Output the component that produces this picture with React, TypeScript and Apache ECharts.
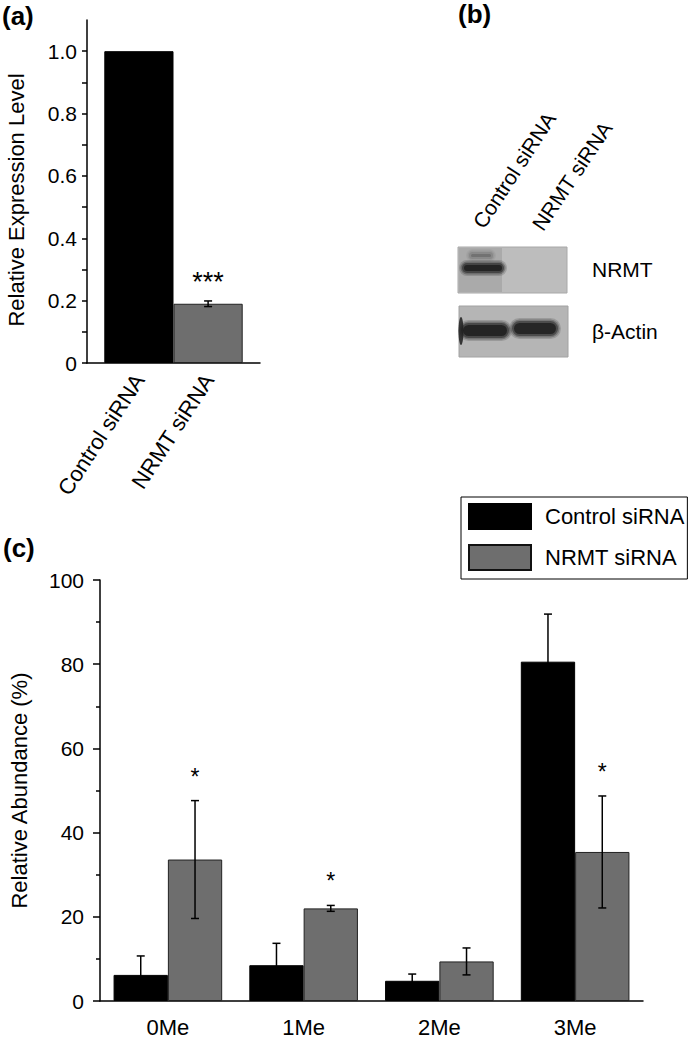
import React, { useEffect, useRef } from "react";
import * as echarts from "echarts";

// ---------- data ----------
// panel (a)
const aCategories = ["Control siRNA", "NRMT siRNA"];
const aValues = [1.0, 0.19];
const aErrors = [0, 0.009];
const aSignif = ["", "***"];
const aTickValues = [0, 0.1, 0.2, 0.3, 0.4, 0.5, 0.6, 0.7, 0.8, 0.9, 1.0];
const aLabelValues = [0, 0.2, 0.4, 0.6, 0.8, 1.0];

// panel (b) western blot relative band intensities (lane order = aCategories)
const blotNRMT = [1, 0];
const blotActin = [1, 0.95];

// panel (c)
const cCategories = ["0Me", "1Me", "2Me", "3Me"];
const controlValues = [6.2, 8.5, 4.8, 80.6];
const controlErrors = [4.5, 5.2, 1.6, 11.3];
const nrmtValues = [33.6, 22.0, 9.4, 35.4];
const nrmtErrors = [14.0, 0.7, 3.2, 13.3];
const controlSignif = ["", "", "", ""];
const nrmtSignif = ["*", "*", "", "*"];

const FONT = '"Liberation Sans", Arial, Helvetica, sans-serif';
const GRAY = "#6e6e6e";

function errorSeries(
  id: string,
  xAxisIndex: number,
  yAxisIndex: number,
  values: number[],
  errors: number[],
  signif: string[],
  side: number,
  starSize: number,
  starGap: number
) {
  const data = values.map((v, i) => [i, v, errors[i]]);
  return {
    id,
    type: "custom",
    xAxisIndex,
    yAxisIndex,
    z: 5,
    encode: { x: 0, y: 1 },
    data,
    renderItem: (params: any, api: any) => {
      const i = api.value(0);
      const v = api.value(1);
      const e = api.value(2);
      const bw = api.size([1, 0])[0];
      const dx = side * bw * 0.2;
      const top = api.coord([i, v + e]);
      const bot = api.coord([i, v - e]);
      const x = top[0] + dx;
      const children: any[] = [];
      const ls = { stroke: "#000", lineWidth: 1.5 };
      if (e > 0) {
        children.push({ type: "line", shape: { x1: x, y1: top[1], x2: x, y2: bot[1] }, style: ls });
        children.push({ type: "line", shape: { x1: x - 4, y1: top[1], x2: x + 4, y2: top[1] }, style: ls });
        children.push({ type: "line", shape: { x1: x - 4, y1: bot[1], x2: x + 4, y2: bot[1] }, style: ls });
      }
      const sig = signif[params.dataIndex];
      if (sig) {
        children.push({
          type: "text",
          x: x,
          y: top[1] - starGap,
          style: {
            text: sig,
            fill: "#000",
            font: `${starSize}px ${FONT}`,
            textAlign: "center",
            textVerticalAlign: "middle",
          },
        });
      }
      return { type: "group", children };
    },
  };
}

// soft (blurred-looking) band made of layered translucent rounded rects
function softBand(x: number, y: number, w: number, h: number, intensity: number) {
  const layers = [
    { g: 4, a: 0.18 },
    { g: 2.5, a: 0.3 },
    { g: 1, a: 0.5 },
    { g: -1, a: 0.85 },
  ];
  return layers.map((l) => ({
    type: "rect",
    shape: { x: x - l.g, y: y - l.g, width: w + 2 * l.g, height: h + 2 * l.g, r: (h + 2 * l.g) / 2 },
    style: { fill: "#1e1e1e", opacity: l.a * intensity },
  }));
}

function blotElements() {
  const els: any[] = [];
  // NRMT blot box
  els.push({ type: "rect", shape: { x: 458, y: 247, width: 109, height: 46 }, style: { fill: "#bdbdbd", stroke: "#a8a8a8", lineWidth: 1 } });
  els.push({ type: "rect", shape: { x: 459, y: 248, width: 43, height: 44 }, style: { fill: "#aaaaaa" } });
  els.push(...softBand(470, 253, 22, 5, 0.25));
  // Actin blot box
  els.push({ type: "rect", shape: { x: 459, y: 306, width: 109, height: 51 }, style: { fill: "#b5b5b5", stroke: "#a2a2a2", lineWidth: 1 } });
  const nrmtLanes = [
    { x: 463, y: 264, w: 40, h: 8 },
    { x: 511, y: 264, w: 44, h: 8 },
  ];
  const actinLanes = [
    { x: 462, y: 324, w: 46, h: 13 },
    { x: 513, y: 322, w: 44, h: 13 },
  ];
  blotNRMT.forEach((inten, i) => {
    if (inten <= 0) return;
    const l = nrmtLanes[i];
    els.push(...softBand(l.x, l.y, l.w, l.h, inten));
  });
  blotActin.forEach((inten, i) => {
    if (inten <= 0) return;
    const l = actinLanes[i];
    els.push(...softBand(l.x, l.y, l.w, l.h, inten));
  });
  // curved dark edge on the left of the actin box
  els.push({ type: "ellipse", shape: { cx: 461, cy: 331, rx: 2.5, ry: 14 }, style: { fill: "#1e1e1e", opacity: 0.85 } });
  return els;
}

export default function App() {
  const ref = useRef<HTMLDivElement>(null);
  useEffect(() => {
    if (!ref.current) return;
    const chart = echarts.init(ref.current, undefined, { renderer: "svg" });
    const axisLine = { show: true, lineStyle: { color: "#000", width: 1.5 } };
    const tickLine = { color: "#000", width: 1.5 };
    const option: any = {
      animation: false,
      backgroundColor: "#fff",
      textStyle: { fontFamily: FONT, color: "#000" },
      grid: [
        { left: 87, top: 20, width: 173, height: 343 },
        { left: 80, top: 580, width: 563, height: 422 },
        { left: 104.5, top: 20, width: 139, height: 343 },
      ],
      xAxis: [
        {
          gridIndex: 0, type: "category", data: ["siRNA"], position: "bottom",
          axisLine, axisTick: { alignWithLabel: true, length: 8, lineStyle: tickLine },
          axisLabel: { show: false }, splitLine: { show: false },
        },
        {
          gridIndex: 0, type: "category", data: ["siRNA"], position: "bottom",
          axisLine: { show: false }, axisTick: { length: 4, lineStyle: tickLine },
          axisLabel: { show: false }, splitLine: { show: false },
        },
        {
          gridIndex: 1, type: "category", data: cCategories, position: "bottom",
          axisLine, axisTick: { alignWithLabel: true, length: 8, lineStyle: tickLine },
          axisLabel: { fontSize: 22, margin: 15, color: "#000", fontFamily: FONT },
          splitLine: { show: false },
        },
        {
          gridIndex: 1, type: "category", data: cCategories, position: "bottom",
          axisLine: { show: false }, axisTick: { length: 4, lineStyle: tickLine },
          axisLabel: { show: false }, splitLine: { show: false },
        },
        {
          gridIndex: 2, type: "category", data: aCategories, position: "bottom",
          axisLine: { show: false }, axisTick: { show: false },
          axisLabel: { rotate: 57, interval: 0, margin: 13, fontSize: 22, color: "#000", fontFamily: FONT },
          splitLine: { show: false },
        },
      ],
      yAxis: [
        {
          gridIndex: 0, type: "value", min: 0, max: 1.1, interval: 0.1,
          axisLine, splitLine: { show: false },
          axisTick: { show: true, length: 5, lineStyle: tickLine, customValues: aTickValues },
          axisLabel: {
            fontSize: 21, margin: 10, color: "#000", fontFamily: FONT,
            customValues: aLabelValues,
            formatter: (v: number) => (v === 0 ? "0" : v.toFixed(1)),
          },
          name: "Relative Expression Level", nameLocation: "middle", nameGap: 60,
          nameTextStyle: { fontSize: 22, color: "#000", fontFamily: FONT, padding: [0, 17, 0, 0] },
        },
        {
          gridIndex: 1, type: "value", min: 0, max: 100, interval: 20,
          axisLine, splitLine: { show: false },
          axisTick: { show: true, length: 7, lineStyle: tickLine },
          minorTick: { show: true, splitNumber: 2, length: 4, lineStyle: tickLine },
          axisLabel: { fontSize: 21, margin: 16, color: "#000", fontFamily: FONT },
          name: "Relative Abundance (%)", nameLocation: "middle", nameGap: 70,
          nameTextStyle: { fontSize: 22, color: "#000", fontFamily: FONT },
        },
        { gridIndex: 2, type: "value", show: false, min: 0, max: 1.1 },
      ],
      legend: {
        left: 461, top: 497, orient: "vertical", selectedMode: false,
        data: [
          { name: "Control siRNA" },
          { name: "NRMT siRNA", itemStyle: { borderWidth: 2, borderColor: "#111" } },
        ],
        icon: "rect", itemWidth: 62, itemHeight: 25, itemGap: 14,
        padding: [6, 3, 8, 7], borderColor: "#000", borderWidth: 1,
        textStyle: { fontSize: 22, color: "#000", fontFamily: FONT, padding: [0, 0, 0, 9] },
      },
      series: [
        {
          name: "a-control", type: "bar", xAxisIndex: 0, yAxisIndex: 0,
          data: [aValues[0]], barWidth: "40%", barGap: "0%",
          itemStyle: { color: "#000", borderColor: "#000", borderWidth: 1 },
        },
        {
          name: "a-nrmt", type: "bar", xAxisIndex: 0, yAxisIndex: 0,
          data: [aValues[1]], barWidth: "40%", barGap: "0%",
          itemStyle: { color: GRAY, borderColor: "#222", borderWidth: 1 },
        },
        errorSeries("a-err", 0, 0, [aValues[1]], [aErrors[1]], [aSignif[1]], 1, 27, 19),
        {
          name: "Control siRNA", type: "bar", xAxisIndex: 2, yAxisIndex: 1,
          data: controlValues, barWidth: "40%", barGap: "0%",
          itemStyle: { color: "#000", borderColor: "#000", borderWidth: 1 },
        },
        {
          name: "NRMT siRNA", type: "bar", xAxisIndex: 2, yAxisIndex: 1,
          data: nrmtValues, barWidth: "40%", barGap: "0%",
          itemStyle: { color: GRAY, borderColor: "#222", borderWidth: 1 },
        },
        errorSeries("c-err-control", 2, 1, controlValues, controlErrors, controlSignif, -1, 23, 24),
        errorSeries("c-err-nrmt", 2, 1, nrmtValues, nrmtErrors, nrmtSignif, 1, 23, 24),
      ],
      graphic: [
        { type: "text", x: 2, y: 3, style: { text: "(a)", font: `bold 26px ${FONT}`, fill: "#000", textAlign: "left", textVerticalAlign: "top" } },
        { type: "text", x: 458, y: 1, style: { text: "(b)", font: `bold 26px ${FONT}`, fill: "#000", textAlign: "left", textVerticalAlign: "top" } },
        { type: "text", x: 3, y: 535, style: { text: "(c)", font: `bold 26px ${FONT}`, fill: "#000", textAlign: "left", textVerticalAlign: "top" } },
        {
          type: "text", x: 478, y: 226, rotation: (57 * Math.PI) / 180,
          style: { text: aCategories[0], font: `21px ${FONT}`, fill: "#000", textAlign: "left", textVerticalAlign: "middle" },
        },
        {
          type: "text", x: 537, y: 228, rotation: (56 * Math.PI) / 180,
          style: { text: aCategories[1], font: `21px ${FONT}`, fill: "#000", textAlign: "left", textVerticalAlign: "middle" },
        },
        ...blotElements(),
        { type: "text", x: 592, y: 269, style: { text: "NRMT", font: `21px ${FONT}`, fill: "#000", textAlign: "left", textVerticalAlign: "middle" } },
        { type: "text", x: 592, y: 331, style: { text: "β-Actin", font: `21px ${FONT}`, fill: "#000", textAlign: "left", textVerticalAlign: "middle" } },
      ],
    };
    chart.setOption(option);
    return () => chart.dispose();
  }, []);
  return (
    <div
      ref={ref}
      style={{ position: "fixed", left: 0, top: 0, width: 693, height: 1038, background: "#fff" }}
    />
  );
}
